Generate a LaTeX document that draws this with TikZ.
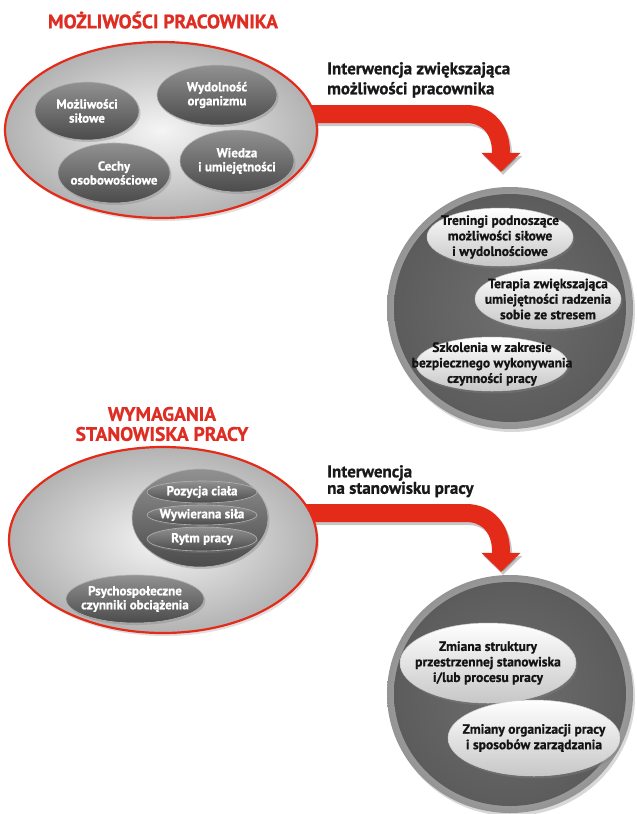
\documentclass[tikz,border=0pt]{standalone}
\usepackage{fontspec}
\setmainfont{PT Sans}[BoldFeatures={FakeBold=0.8}]
\usetikzlibrary{shapes.geometric,shadows,arrows.meta,backgrounds}
\definecolor{redc}{RGB}{228,42,25}
\definecolor{titlered}{RGB}{222,45,35}
\definecolor{darktop}{RGB}{145,145,145}
\definecolor{darkbot}{RGB}{75,75,75}
\definecolor{circin}{RGB}{110,110,110}
\definecolor{circout}{RGB}{92,92,92}
\tikzset{
  titletxt/.style={text=titlered, font=\bfseries\fontsize{19.5}{20}\selectfont, align=center},
  arrowtxt/.style={text=black!90, font=\bfseries\fontsize{17}{20}\selectfont, align=left, inner sep=0pt},
  outerell/.style={ellipse, inner sep=0pt, draw=redc, line width=2.2pt,
     inner color=white!96!black, outer color=black!30,
     drop shadow={opacity=0.25, shadow xshift=2pt, shadow yshift=-3pt}},
  darkell/.style={ellipse, inner sep=0pt, draw=black!30, line width=0.6pt,
     top color=darktop, bottom color=darkbot,
     drop shadow={opacity=0.35, shadow xshift=1.5pt, shadow yshift=-2pt}},
  darktxt/.style={text=white, font=\bfseries\fontsize{13}{14}\selectfont, align=center, inner sep=0pt},
  lightell/.style={ellipse, inner sep=0pt, draw=black!20, line width=0.5pt,
     top color=white, bottom color=black!22,
     drop shadow={opacity=0.4, shadow xshift=1.5pt, shadow yshift=-2.5pt}},
  lighttxt/.style={text=black!92, font=\bfseries\fontsize{13.5}{15.5}\selectfont, align=center, inner sep=0pt},
  ring/.style={ellipse, inner sep=0pt, inner color=black!12, outer color=black!42,
     drop shadow={opacity=0.3, shadow xshift=2pt, shadow yshift=-3pt}},
  ringin/.style={ellipse, inner sep=0pt, inner color=circin, outer color=circout},
  bigarrow/.style={draw=redc, line width=18pt,
     -{Triangle[width=38pt,length=19pt]}},
  arrowshadow/.style={draw=black, opacity=0.22, line width=18pt,
     -{Triangle[width=38pt,length=19pt]}, transform canvas={xshift=2pt,yshift=-3pt}},
}
\begin{document}
\begin{tikzpicture}[x=1pt,y=-1pt]
\useasboundingbox (0,0) rectangle (637,814);
\begin{scope}[on background layer]
\fill[white] (0,0) rectangle (637,814);
\end{scope}

% ---------- top part ----------
\node[titletxt] (t1) at (163,20) {MOŻLIWOŚCI PRACOWNIKA};
\node[outerell, minimum width=312pt, minimum height=176pt] (e1) at (161,130) {};
\node[darkell, minimum width=104pt, minimum height=58pt] (m1) at (87,111) {};
\node[darktxt] (m1t) at (m1) {Możliwości\\siłowe};
\node[darkell, minimum width=120pt, minimum height=60pt] (m2) at (217,95) {};
\node[darktxt] (m2t) at (m2) {Wydolność\\organizmu};
\node[darkell, minimum width=112pt, minimum height=60pt] (m3) at (114,173) {};
\node[darktxt] (m3t) at (m3) {Cechy\\osobowościowe};
\node[darkell, minimum width=114pt, minimum height=62pt] (m4) at (237,161) {};
\node[darktxt] (m4t) at (m4) {Wiedza\\i umiejętności};

\node[arrowtxt, anchor=north west] (l1) at (327,62) {Interwencja zwiększająca\\możliwości pracownika};

\node[ring, minimum width=246pt, minimum height=242pt] (c1) at (510,308) {};
\node[ringin, minimum width=232pt, minimum height=228pt] (c1i) at (c1) {};
\node[lightell, minimum width=146pt, minimum height=58pt] (r1) at (500,237) {};
\node[lighttxt] (r1t) at (r1) {Treningi podnoszące\\możliwości siłowe\\i wydolnościowe};
\node[lightell, minimum width=146pt, minimum height=60pt] (r2) at (548,299) {};
\node[lighttxt] (r2t) at (r2) {Terapia zwiększająca\\umiejętności radzenia\\sobie ze stresem};
\node[lightell, minimum width=152pt, minimum height=54pt] (r3) at (492,364) {};
\node[lighttxt] (r3t) at (r3) {Szkolenia w zakresie\\bezpiecznego wykonywania\\czynności pracy};

\begin{scope}[on background layer]
  \coordinate (a1) at ([xshift=-30pt,yshift=16pt]e1.east);
  \coordinate (k1) at (466,114);
  \coordinate (b1) at (501,152);
  \draw[arrowshadow, shorten >=15pt] (a1) -- (k1)
       .. controls (488,114) and (501,130) .. (b1) -- ([xshift=-9pt]c1.north);
  \draw[bigarrow, shorten >=15pt] (a1) -- (k1)
       .. controls (488,114) and (501,130) .. (b1) -- ([xshift=-9pt]c1.north);
\end{scope}

% ---------- bottom part ----------
\node[titletxt] (t2) at (162,424) {WYMAGANIA\\STANOWISKA PRACY};
\node[outerell, minimum width=308pt, minimum height=186pt] (e2) at (163,540) {};
\node[darkell, minimum width=136pt, minimum height=98pt] (d0) at (200,518) {};
\node[darkell, minimum width=110pt, minimum height=22pt] (p1) at (202,492) {};
\node[darktxt] (p1t) at (p1) {Pozycja ciała};
\node[darkell, minimum width=110pt, minimum height=20pt] (p2) at (202,515) {};
\node[darktxt] (p2t) at (p2) {Wywierana siła};
\node[darkell, minimum width=110pt, minimum height=24pt] (p3) at (202,539) {};
\node[darktxt] (p3t) at (p3) {Rytm pracy};
\node[darkell, minimum width=138pt, minimum height=48pt] (p4) at (135,599) {};
\node[darktxt] (p4t) at (p4) {Psychospołeczne\\czynniki obciążenia};

\node[arrowtxt, anchor=north west, font=\bfseries\fontsize{17}{16.5}\selectfont] (l2) at (327,465) {Interwencja\\na stanowisku pracy};

\node[ring, minimum width=246pt, minimum height=238pt] (c2) at (510,694) {};
\node[ringin, minimum width=232pt, minimum height=224pt] (c2i) at (c2) {};
\node[lightell, minimum width=176pt, minimum height=80pt] (s1) at (488,663) {};
\node[lighttxt] (s1t) at (s1) {Zmiana struktury\\przestrzennej stanowiska\\i/lub procesu pracy};
\node[lightell, minimum width=172pt, minimum height=76pt] (s2) at (534,738) {};
\node[lighttxt] (s2t) at (s2) {Zmiany organizacji pracy\\i sposobów zarządzania};

\begin{scope}[on background layer]
  \coordinate (a2) at ([xshift=-30pt,yshift=27pt]e2.east);
  \coordinate (k2) at (466,513);
  \coordinate (b2) at (501,551);
  \draw[arrowshadow, shorten >=3pt] (a2) -- (k2)
       .. controls (488,513) and (501,529) .. (b2) -- ([xshift=-9pt]c2.north);
  \draw[bigarrow, shorten >=3pt] (a2) -- (k2)
       .. controls (488,513) and (501,529) .. (b2) -- ([xshift=-9pt]c2.north);
\end{scope}
\end{tikzpicture}
\end{document}
